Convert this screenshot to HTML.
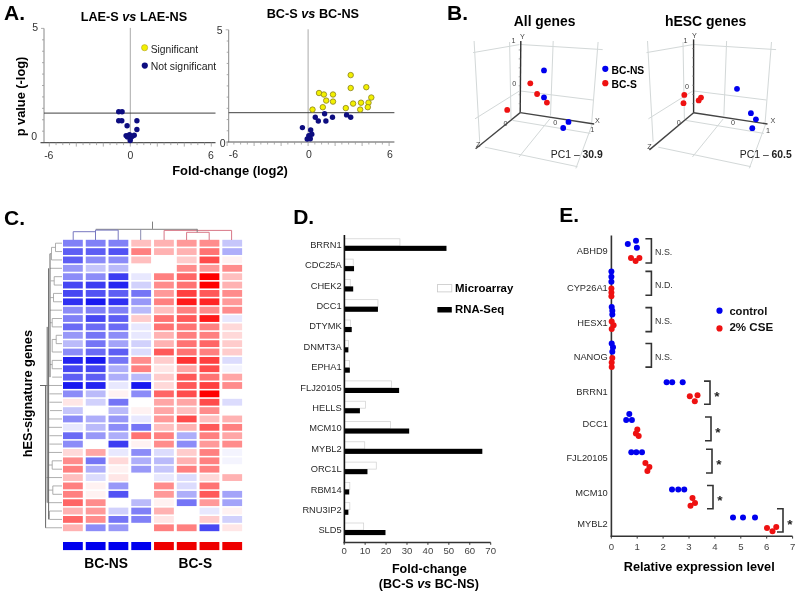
<!DOCTYPE html>
<html><head><meta charset="utf-8"><style>
html,body{margin:0;padding:0;background:#fff;}
svg{display:block;font-family:"Liberation Sans", sans-serif;filter:blur(0.3px);}
</style></head><body>
<svg width="800" height="595" viewBox="0 0 800 595" font-family='"Liberation Sans", sans-serif'>
<rect x="0" y="0" width="800" height="595" fill="#fff"/>
<text x="4.00" y="20.40" font-size="21" font-weight="bold" fill="#000" text-anchor="start" >A.</text>
<line x1="44.00" y1="28.40" x2="44.00" y2="142.60" stroke="#888" stroke-width="1" />
<line x1="41.00" y1="28.40" x2="44.00" y2="28.40" stroke="#999" stroke-width="0.8" />
<line x1="42.00" y1="39.82" x2="44.00" y2="39.82" stroke="#999" stroke-width="0.8" />
<line x1="42.00" y1="51.24" x2="44.00" y2="51.24" stroke="#999" stroke-width="0.8" />
<line x1="42.00" y1="62.66" x2="44.00" y2="62.66" stroke="#999" stroke-width="0.8" />
<line x1="42.00" y1="74.08" x2="44.00" y2="74.08" stroke="#999" stroke-width="0.8" />
<line x1="42.00" y1="85.50" x2="44.00" y2="85.50" stroke="#999" stroke-width="0.8" />
<line x1="42.00" y1="96.92" x2="44.00" y2="96.92" stroke="#999" stroke-width="0.8" />
<line x1="42.00" y1="108.34" x2="44.00" y2="108.34" stroke="#999" stroke-width="0.8" />
<line x1="42.00" y1="119.76" x2="44.00" y2="119.76" stroke="#999" stroke-width="0.8" />
<line x1="42.00" y1="131.18" x2="44.00" y2="131.18" stroke="#999" stroke-width="0.8" />
<line x1="41.00" y1="142.60" x2="44.00" y2="142.60" stroke="#999" stroke-width="0.8" />
<line x1="40.50" y1="142.60" x2="215.50" y2="142.60" stroke="#555" stroke-width="1.2" />
<line x1="49.30" y1="142.60" x2="49.30" y2="146.60" stroke="#999" stroke-width="0.8" />
<line x1="56.05" y1="142.60" x2="56.05" y2="145.10" stroke="#999" stroke-width="0.8" />
<line x1="62.80" y1="142.60" x2="62.80" y2="145.10" stroke="#999" stroke-width="0.8" />
<line x1="69.55" y1="142.60" x2="69.55" y2="145.10" stroke="#999" stroke-width="0.8" />
<line x1="76.30" y1="142.60" x2="76.30" y2="146.60" stroke="#999" stroke-width="0.8" />
<line x1="83.05" y1="142.60" x2="83.05" y2="145.10" stroke="#999" stroke-width="0.8" />
<line x1="89.80" y1="142.60" x2="89.80" y2="145.10" stroke="#999" stroke-width="0.8" />
<line x1="96.55" y1="142.60" x2="96.55" y2="145.10" stroke="#999" stroke-width="0.8" />
<line x1="103.30" y1="142.60" x2="103.30" y2="146.60" stroke="#999" stroke-width="0.8" />
<line x1="110.05" y1="142.60" x2="110.05" y2="145.10" stroke="#999" stroke-width="0.8" />
<line x1="116.80" y1="142.60" x2="116.80" y2="145.10" stroke="#999" stroke-width="0.8" />
<line x1="123.55" y1="142.60" x2="123.55" y2="145.10" stroke="#999" stroke-width="0.8" />
<line x1="130.30" y1="142.60" x2="130.30" y2="146.60" stroke="#999" stroke-width="0.8" />
<line x1="137.05" y1="142.60" x2="137.05" y2="145.10" stroke="#999" stroke-width="0.8" />
<line x1="143.80" y1="142.60" x2="143.80" y2="145.10" stroke="#999" stroke-width="0.8" />
<line x1="150.55" y1="142.60" x2="150.55" y2="145.10" stroke="#999" stroke-width="0.8" />
<line x1="157.30" y1="142.60" x2="157.30" y2="146.60" stroke="#999" stroke-width="0.8" />
<line x1="164.05" y1="142.60" x2="164.05" y2="145.10" stroke="#999" stroke-width="0.8" />
<line x1="170.80" y1="142.60" x2="170.80" y2="145.10" stroke="#999" stroke-width="0.8" />
<line x1="177.55" y1="142.60" x2="177.55" y2="145.10" stroke="#999" stroke-width="0.8" />
<line x1="184.30" y1="142.60" x2="184.30" y2="146.60" stroke="#999" stroke-width="0.8" />
<line x1="191.05" y1="142.60" x2="191.05" y2="145.10" stroke="#999" stroke-width="0.8" />
<line x1="197.80" y1="142.60" x2="197.80" y2="145.10" stroke="#999" stroke-width="0.8" />
<line x1="204.55" y1="142.60" x2="204.55" y2="145.10" stroke="#999" stroke-width="0.8" />
<line x1="211.30" y1="142.60" x2="211.30" y2="146.60" stroke="#999" stroke-width="0.8" />
<line x1="130.30" y1="27.90" x2="130.30" y2="142.60" stroke="#aaa" stroke-width="1" />
<line x1="44.00" y1="113.10" x2="215.50" y2="113.10" stroke="#404040" stroke-width="1" />
<line x1="228.70" y1="29.80" x2="228.70" y2="142.00" stroke="#888" stroke-width="1" />
<line x1="225.70" y1="29.80" x2="228.70" y2="29.80" stroke="#999" stroke-width="0.8" />
<line x1="226.70" y1="41.02" x2="228.70" y2="41.02" stroke="#999" stroke-width="0.8" />
<line x1="226.70" y1="52.24" x2="228.70" y2="52.24" stroke="#999" stroke-width="0.8" />
<line x1="226.70" y1="63.46" x2="228.70" y2="63.46" stroke="#999" stroke-width="0.8" />
<line x1="226.70" y1="74.68" x2="228.70" y2="74.68" stroke="#999" stroke-width="0.8" />
<line x1="226.70" y1="85.90" x2="228.70" y2="85.90" stroke="#999" stroke-width="0.8" />
<line x1="226.70" y1="97.12" x2="228.70" y2="97.12" stroke="#999" stroke-width="0.8" />
<line x1="226.70" y1="108.34" x2="228.70" y2="108.34" stroke="#999" stroke-width="0.8" />
<line x1="226.70" y1="119.56" x2="228.70" y2="119.56" stroke="#999" stroke-width="0.8" />
<line x1="226.70" y1="130.78" x2="228.70" y2="130.78" stroke="#999" stroke-width="0.8" />
<line x1="225.70" y1="142.00" x2="228.70" y2="142.00" stroke="#999" stroke-width="0.8" />
<line x1="227.50" y1="142.00" x2="394.40" y2="142.00" stroke="#555" stroke-width="1.2" />
<line x1="227.10" y1="142.00" x2="227.10" y2="146.00" stroke="#999" stroke-width="0.8" />
<line x1="233.85" y1="142.00" x2="233.85" y2="144.50" stroke="#999" stroke-width="0.8" />
<line x1="240.60" y1="142.00" x2="240.60" y2="144.50" stroke="#999" stroke-width="0.8" />
<line x1="247.35" y1="142.00" x2="247.35" y2="144.50" stroke="#999" stroke-width="0.8" />
<line x1="254.10" y1="142.00" x2="254.10" y2="146.00" stroke="#999" stroke-width="0.8" />
<line x1="260.85" y1="142.00" x2="260.85" y2="144.50" stroke="#999" stroke-width="0.8" />
<line x1="267.60" y1="142.00" x2="267.60" y2="144.50" stroke="#999" stroke-width="0.8" />
<line x1="274.35" y1="142.00" x2="274.35" y2="144.50" stroke="#999" stroke-width="0.8" />
<line x1="281.10" y1="142.00" x2="281.10" y2="146.00" stroke="#999" stroke-width="0.8" />
<line x1="287.85" y1="142.00" x2="287.85" y2="144.50" stroke="#999" stroke-width="0.8" />
<line x1="294.60" y1="142.00" x2="294.60" y2="144.50" stroke="#999" stroke-width="0.8" />
<line x1="301.35" y1="142.00" x2="301.35" y2="144.50" stroke="#999" stroke-width="0.8" />
<line x1="308.10" y1="142.00" x2="308.10" y2="146.00" stroke="#999" stroke-width="0.8" />
<line x1="314.85" y1="142.00" x2="314.85" y2="144.50" stroke="#999" stroke-width="0.8" />
<line x1="321.60" y1="142.00" x2="321.60" y2="144.50" stroke="#999" stroke-width="0.8" />
<line x1="328.35" y1="142.00" x2="328.35" y2="144.50" stroke="#999" stroke-width="0.8" />
<line x1="335.10" y1="142.00" x2="335.10" y2="146.00" stroke="#999" stroke-width="0.8" />
<line x1="341.85" y1="142.00" x2="341.85" y2="144.50" stroke="#999" stroke-width="0.8" />
<line x1="348.60" y1="142.00" x2="348.60" y2="144.50" stroke="#999" stroke-width="0.8" />
<line x1="355.35" y1="142.00" x2="355.35" y2="144.50" stroke="#999" stroke-width="0.8" />
<line x1="362.10" y1="142.00" x2="362.10" y2="146.00" stroke="#999" stroke-width="0.8" />
<line x1="368.85" y1="142.00" x2="368.85" y2="144.50" stroke="#999" stroke-width="0.8" />
<line x1="375.60" y1="142.00" x2="375.60" y2="144.50" stroke="#999" stroke-width="0.8" />
<line x1="382.35" y1="142.00" x2="382.35" y2="144.50" stroke="#999" stroke-width="0.8" />
<line x1="389.10" y1="142.00" x2="389.10" y2="146.00" stroke="#999" stroke-width="0.8" />
<line x1="308.10" y1="29.30" x2="308.10" y2="142.00" stroke="#aaa" stroke-width="1" />
<line x1="228.70" y1="112.70" x2="394.40" y2="112.70" stroke="#404040" stroke-width="1" />
<text x="38.00" y="31.20" font-size="10.5" font-weight="normal" fill="#333" text-anchor="end" >5</text>
<text x="37.20" y="139.90" font-size="10.5" font-weight="normal" fill="#333" text-anchor="end" >0</text>
<text x="48.80" y="159.20" font-size="10.5" font-weight="normal" fill="#333" text-anchor="middle" >-6</text>
<text x="130.30" y="158.60" font-size="10.5" font-weight="normal" fill="#333" text-anchor="middle" >0</text>
<text x="210.80" y="158.60" font-size="10.5" font-weight="normal" fill="#333" text-anchor="middle" >6</text>
<text x="222.60" y="33.60" font-size="10.5" font-weight="normal" fill="#333" text-anchor="end" >5</text>
<text x="225.60" y="146.60" font-size="10.5" font-weight="normal" fill="#333" text-anchor="end" >0</text>
<text x="233.50" y="157.80" font-size="10.5" font-weight="normal" fill="#333" text-anchor="middle" >-6</text>
<text x="308.90" y="157.80" font-size="10.5" font-weight="normal" fill="#333" text-anchor="middle" >0</text>
<text x="389.90" y="157.80" font-size="10.5" font-weight="normal" fill="#333" text-anchor="middle" >6</text>
<text x="80.70" y="20.80" font-size="12.7" font-weight="bold" fill="#000" text-anchor="start" >LAE-S <tspan font-style="italic">vs</tspan> LAE-NS</text>
<text x="266.70" y="17.70" font-size="12.7" font-weight="bold" fill="#000" text-anchor="start" >BC-S <tspan font-style="italic">vs</tspan> BC-NS</text>
<text x="172.20" y="174.60" font-size="12.95" font-weight="bold" fill="#000" text-anchor="start" >Fold-change (log2)</text>
<text x="0" y="0" font-size="12.8" font-weight="bold" text-anchor="middle" transform="translate(25.0,96.5) rotate(-90)">p value (-log)</text>
<circle cx="144.60" cy="47.70" r="3.1" fill="#f2f000" stroke="#b0a030" stroke-width="0.6"/>
<text x="150.70" y="52.50" font-size="10.3" font-weight="normal" fill="#222" text-anchor="start" >Significant</text>
<circle cx="144.80" cy="65.60" r="3.1" fill="#0d0d80" stroke="none" stroke-width="0"/>
<text x="150.70" y="70.40" font-size="10.45" font-weight="normal" fill="#222" text-anchor="start" >Not significant</text>
<circle cx="118.70" cy="111.70" r="2.7" fill="#0d0d80" stroke="none" stroke-width="0"/>
<circle cx="122.10" cy="111.70" r="2.7" fill="#0d0d80" stroke="none" stroke-width="0"/>
<circle cx="118.70" cy="120.80" r="2.7" fill="#0d0d80" stroke="none" stroke-width="0"/>
<circle cx="121.80" cy="120.80" r="2.7" fill="#0d0d80" stroke="none" stroke-width="0"/>
<circle cx="127.10" cy="125.80" r="2.7" fill="#0d0d80" stroke="none" stroke-width="0"/>
<circle cx="136.90" cy="120.80" r="2.7" fill="#0d0d80" stroke="none" stroke-width="0"/>
<circle cx="136.90" cy="129.50" r="2.7" fill="#0d0d80" stroke="none" stroke-width="0"/>
<circle cx="126.10" cy="135.60" r="2.7" fill="#0d0d80" stroke="none" stroke-width="0"/>
<circle cx="129.50" cy="134.60" r="2.7" fill="#0d0d80" stroke="none" stroke-width="0"/>
<circle cx="134.20" cy="135.20" r="2.7" fill="#0d0d80" stroke="none" stroke-width="0"/>
<circle cx="130.20" cy="138.60" r="2.7" fill="#0d0d80" stroke="none" stroke-width="0"/>
<circle cx="130.20" cy="140.60" r="2.7" fill="#0d0d80" stroke="none" stroke-width="0"/>
<circle cx="127.50" cy="136.90" r="2.7" fill="#0d0d80" stroke="none" stroke-width="0"/>
<circle cx="132.00" cy="136.50" r="2.7" fill="#0d0d80" stroke="none" stroke-width="0"/>
<circle cx="350.70" cy="75.10" r="2.75" fill="#f2f000" stroke="#8a8020" stroke-width="0.8"/>
<circle cx="350.70" cy="88.00" r="2.75" fill="#f2f000" stroke="#8a8020" stroke-width="0.8"/>
<circle cx="366.30" cy="87.20" r="2.75" fill="#f2f000" stroke="#8a8020" stroke-width="0.8"/>
<circle cx="319.00" cy="93.00" r="2.75" fill="#f2f000" stroke="#8a8020" stroke-width="0.8"/>
<circle cx="323.90" cy="94.50" r="2.75" fill="#f2f000" stroke="#8a8020" stroke-width="0.8"/>
<circle cx="333.00" cy="94.50" r="2.75" fill="#f2f000" stroke="#8a8020" stroke-width="0.8"/>
<circle cx="326.20" cy="100.60" r="2.75" fill="#f2f000" stroke="#8a8020" stroke-width="0.8"/>
<circle cx="333.00" cy="101.60" r="2.75" fill="#f2f000" stroke="#8a8020" stroke-width="0.8"/>
<circle cx="371.30" cy="97.50" r="2.75" fill="#f2f000" stroke="#8a8020" stroke-width="0.8"/>
<circle cx="353.10" cy="103.60" r="2.75" fill="#f2f000" stroke="#8a8020" stroke-width="0.8"/>
<circle cx="361.00" cy="102.70" r="2.75" fill="#f2f000" stroke="#8a8020" stroke-width="0.8"/>
<circle cx="368.50" cy="102.70" r="2.75" fill="#f2f000" stroke="#8a8020" stroke-width="0.8"/>
<circle cx="322.80" cy="107.20" r="2.75" fill="#f2f000" stroke="#8a8020" stroke-width="0.8"/>
<circle cx="345.80" cy="108.10" r="2.75" fill="#f2f000" stroke="#8a8020" stroke-width="0.8"/>
<circle cx="360.20" cy="109.60" r="2.75" fill="#f2f000" stroke="#8a8020" stroke-width="0.8"/>
<circle cx="367.80" cy="107.20" r="2.75" fill="#f2f000" stroke="#8a8020" stroke-width="0.8"/>
<circle cx="312.50" cy="109.60" r="2.75" fill="#f2f000" stroke="#8a8020" stroke-width="0.8"/>
<circle cx="324.60" cy="113.70" r="2.7" fill="#0d0d80" stroke="none" stroke-width="0"/>
<circle cx="315.30" cy="117.20" r="2.7" fill="#0d0d80" stroke="none" stroke-width="0"/>
<circle cx="318.30" cy="121.00" r="2.7" fill="#0d0d80" stroke="none" stroke-width="0"/>
<circle cx="325.90" cy="121.00" r="2.7" fill="#0d0d80" stroke="none" stroke-width="0"/>
<circle cx="332.50" cy="117.20" r="2.7" fill="#0d0d80" stroke="none" stroke-width="0"/>
<circle cx="346.60" cy="114.90" r="2.7" fill="#0d0d80" stroke="none" stroke-width="0"/>
<circle cx="350.70" cy="117.20" r="2.7" fill="#0d0d80" stroke="none" stroke-width="0"/>
<circle cx="302.40" cy="127.60" r="2.7" fill="#0d0d80" stroke="none" stroke-width="0"/>
<circle cx="310.70" cy="130.00" r="2.7" fill="#0d0d80" stroke="none" stroke-width="0"/>
<circle cx="311.80" cy="134.20" r="2.7" fill="#0d0d80" stroke="none" stroke-width="0"/>
<circle cx="308.80" cy="135.70" r="2.7" fill="#0d0d80" stroke="none" stroke-width="0"/>
<circle cx="309.50" cy="137.90" r="2.7" fill="#0d0d80" stroke="none" stroke-width="0"/>
<circle cx="307.20" cy="139.00" r="2.7" fill="#0d0d80" stroke="none" stroke-width="0"/>
<circle cx="310.30" cy="138.70" r="2.7" fill="#0d0d80" stroke="none" stroke-width="0"/>
<text x="447.00" y="20.20" font-size="21" font-weight="bold" fill="#000" text-anchor="start" >B.</text>
<text x="513.80" y="26.30" font-size="13.85" font-weight="bold" fill="#000" text-anchor="start" >All genes</text>
<text x="665.00" y="26.40" font-size="13.95" font-weight="bold" fill="#000" text-anchor="start" >hESC genes</text>
<g stroke="#d3d8d8" stroke-width="1" fill="none">
<line x1="520.50" y1="44.50" x2="602.70" y2="49.60"/>
<line x1="520.50" y1="91.00" x2="593.00" y2="100.00"/>
<line x1="553.20" y1="41.00" x2="550.50" y2="115.50"/>
<line x1="598.10" y1="42.00" x2="591.70" y2="122.70"/>
<line x1="519.40" y1="44.60" x2="473.10" y2="52.60"/>
<line x1="519.10" y1="91.20" x2="475.00" y2="118.80"/>
<line x1="509.60" y1="42.00" x2="511.00" y2="119.00"/>
<line x1="474.10" y1="41.00" x2="479.70" y2="141.80"/>
<line x1="512.50" y1="120.40" x2="590.50" y2="133.40"/>
<line x1="484.90" y1="147.20" x2="577.50" y2="166.70"/>
<line x1="549.90" y1="118.80" x2="519.00" y2="157.00"/>
<line x1="592.10" y1="124.50" x2="575.90" y2="168.40"/>
</g>
<line x1="520.20" y1="112.60" x2="520.80" y2="41.00" stroke="#333" stroke-width="1.4" />
<line x1="520.20" y1="112.60" x2="594.20" y2="124.00" stroke="#444" stroke-width="1.4" />
<line x1="520.20" y1="112.60" x2="475.60" y2="148.80" stroke="#444" stroke-width="1.4" />
<line x1="518.70" y1="103.65" x2="520.20" y2="103.65" stroke="#888" stroke-width="0.7" />
<line x1="518.70" y1="94.70" x2="520.20" y2="94.70" stroke="#888" stroke-width="0.7" />
<line x1="518.70" y1="85.75" x2="520.20" y2="85.75" stroke="#888" stroke-width="0.7" />
<line x1="518.70" y1="76.80" x2="520.20" y2="76.80" stroke="#888" stroke-width="0.7" />
<line x1="518.70" y1="67.85" x2="520.20" y2="67.85" stroke="#888" stroke-width="0.7" />
<line x1="518.70" y1="58.90" x2="520.20" y2="58.90" stroke="#888" stroke-width="0.7" />
<line x1="518.70" y1="49.95" x2="520.20" y2="49.95" stroke="#888" stroke-width="0.7" />
<text x="513.60" y="42.50" font-size="7.2" font-weight="normal" fill="#444" text-anchor="middle" >1</text>
<text x="522.50" y="38.50" font-size="7.2" font-weight="normal" fill="#444" text-anchor="middle" >Y</text>
<text x="514.20" y="85.50" font-size="7.2" font-weight="normal" fill="#444" text-anchor="middle" >0</text>
<text x="555.20" y="125.20" font-size="7.2" font-weight="normal" fill="#444" text-anchor="middle" >0</text>
<text x="597.40" y="123.40" font-size="7.2" font-weight="normal" fill="#444" text-anchor="middle" >X</text>
<text x="592.30" y="132.20" font-size="7.2" font-weight="normal" fill="#444" text-anchor="middle" >1</text>
<text x="505.40" y="125.50" font-size="7.2" font-weight="normal" fill="#444" text-anchor="middle" >0</text>
<text x="478.20" y="147.00" font-size="7.2" font-weight="normal" fill="#444" text-anchor="middle" >Z</text>
<circle cx="544.00" cy="70.40" r="2.9" fill="#0000ee" stroke="none" stroke-width="0"/>
<circle cx="530.30" cy="83.30" r="2.9" fill="#ee1111" stroke="none" stroke-width="0"/>
<circle cx="537.10" cy="94.00" r="2.9" fill="#ee1111" stroke="none" stroke-width="0"/>
<circle cx="544.00" cy="97.40" r="2.9" fill="#0000ee" stroke="none" stroke-width="0"/>
<circle cx="546.90" cy="102.60" r="2.9" fill="#ee1111" stroke="none" stroke-width="0"/>
<circle cx="507.20" cy="109.90" r="2.9" fill="#ee1111" stroke="none" stroke-width="0"/>
<circle cx="568.50" cy="121.90" r="2.9" fill="#0000ee" stroke="none" stroke-width="0"/>
<circle cx="563.20" cy="128.00" r="2.9" fill="#0000ee" stroke="none" stroke-width="0"/>
<g stroke="#d3d8d8" stroke-width="1" fill="none">
<line x1="693.90" y1="44.50" x2="776.10" y2="49.60"/>
<line x1="693.90" y1="91.00" x2="766.40" y2="100.00"/>
<line x1="726.60" y1="41.00" x2="723.90" y2="115.50"/>
<line x1="771.50" y1="42.00" x2="765.10" y2="122.70"/>
<line x1="692.80" y1="44.60" x2="646.50" y2="52.60"/>
<line x1="692.50" y1="91.20" x2="648.40" y2="118.80"/>
<line x1="683.00" y1="42.00" x2="684.40" y2="119.00"/>
<line x1="647.50" y1="41.00" x2="653.10" y2="141.80"/>
<line x1="685.90" y1="120.40" x2="763.90" y2="133.40"/>
<line x1="658.30" y1="147.20" x2="750.90" y2="166.70"/>
<line x1="723.30" y1="118.80" x2="692.40" y2="157.00"/>
<line x1="765.50" y1="124.50" x2="749.30" y2="168.40"/>
</g>
<line x1="693.60" y1="112.80" x2="693.60" y2="39.40" stroke="#333" stroke-width="1.4" />
<line x1="693.60" y1="112.80" x2="767.50" y2="124.00" stroke="#444" stroke-width="1.4" />
<line x1="693.60" y1="112.80" x2="649.40" y2="149.90" stroke="#444" stroke-width="1.4" />
<line x1="692.10" y1="103.62" x2="693.60" y2="103.62" stroke="#888" stroke-width="0.7" />
<line x1="692.10" y1="94.45" x2="693.60" y2="94.45" stroke="#888" stroke-width="0.7" />
<line x1="692.10" y1="85.27" x2="693.60" y2="85.27" stroke="#888" stroke-width="0.7" />
<line x1="692.10" y1="76.10" x2="693.60" y2="76.10" stroke="#888" stroke-width="0.7" />
<line x1="692.10" y1="66.92" x2="693.60" y2="66.92" stroke="#888" stroke-width="0.7" />
<line x1="692.10" y1="57.75" x2="693.60" y2="57.75" stroke="#888" stroke-width="0.7" />
<line x1="692.10" y1="48.57" x2="693.60" y2="48.57" stroke="#888" stroke-width="0.7" />
<text x="685.40" y="43.00" font-size="7.2" font-weight="normal" fill="#444" text-anchor="middle" >1</text>
<text x="694.50" y="38.40" font-size="7.2" font-weight="normal" fill="#444" text-anchor="middle" >Y</text>
<text x="687.00" y="88.90" font-size="7.2" font-weight="normal" fill="#444" text-anchor="middle" >0</text>
<text x="732.90" y="125.40" font-size="7.2" font-weight="normal" fill="#444" text-anchor="middle" >0</text>
<text x="772.80" y="123.00" font-size="7.2" font-weight="normal" fill="#444" text-anchor="middle" >X</text>
<text x="768.10" y="133.10" font-size="7.2" font-weight="normal" fill="#444" text-anchor="middle" >1</text>
<text x="678.80" y="125.40" font-size="7.2" font-weight="normal" fill="#444" text-anchor="middle" >0</text>
<text x="649.40" y="148.90" font-size="7.2" font-weight="normal" fill="#444" text-anchor="middle" >Z</text>
<circle cx="737.00" cy="88.80" r="2.9" fill="#0000ee" stroke="none" stroke-width="0"/>
<circle cx="684.30" cy="94.90" r="2.9" fill="#ee1111" stroke="none" stroke-width="0"/>
<circle cx="683.50" cy="103.20" r="2.9" fill="#ee1111" stroke="none" stroke-width="0"/>
<circle cx="701.00" cy="97.60" r="2.9" fill="#ee1111" stroke="none" stroke-width="0"/>
<circle cx="698.70" cy="100.40" r="2.9" fill="#ee1111" stroke="none" stroke-width="0"/>
<circle cx="750.90" cy="113.20" r="2.9" fill="#0000ee" stroke="none" stroke-width="0"/>
<circle cx="755.90" cy="119.30" r="2.9" fill="#0000ee" stroke="none" stroke-width="0"/>
<circle cx="752.30" cy="128.20" r="2.9" fill="#0000ee" stroke="none" stroke-width="0"/>
<circle cx="605.30" cy="68.80" r="3.1" fill="#0000ee" stroke="none" stroke-width="0"/>
<text x="611.60" y="73.50" font-size="10.3" font-weight="bold" fill="#000" text-anchor="start" >BC-NS</text>
<circle cx="605.30" cy="83.20" r="3.1" fill="#ee1111" stroke="none" stroke-width="0"/>
<text x="611.60" y="87.90" font-size="10.3" font-weight="bold" fill="#000" text-anchor="start" >BC-S</text>
<text x="550.80" y="158.20" font-size="10.4" font-weight="normal" fill="#222" text-anchor="start" >PC1 – <tspan font-weight="bold">30.9</tspan></text>
<text x="739.80" y="158.10" font-size="10.4" font-weight="normal" fill="#222" text-anchor="start" >PC1 – <tspan font-weight="bold">60.5</tspan></text>
<text x="4.00" y="225.30" font-size="21" font-weight="bold" fill="#000" text-anchor="start" >C.</text>
<rect x="63.00" y="239.80" width="19.80" height="6.80" fill="rgb(128,128,247)" stroke="none" stroke-width="0"/>
<rect x="85.76" y="239.80" width="19.80" height="6.80" fill="rgb(128,128,247)" stroke="none" stroke-width="0"/>
<rect x="108.52" y="239.80" width="19.80" height="6.80" fill="rgb(128,128,247)" stroke="none" stroke-width="0"/>
<rect x="131.28" y="239.80" width="19.80" height="6.80" fill="rgb(255,191,191)" stroke="none" stroke-width="0"/>
<rect x="154.04" y="239.80" width="19.80" height="6.80" fill="rgb(255,178,178)" stroke="none" stroke-width="0"/>
<rect x="176.80" y="239.80" width="19.80" height="6.80" fill="rgb(255,153,153)" stroke="none" stroke-width="0"/>
<rect x="199.56" y="239.80" width="19.80" height="6.80" fill="rgb(255,140,140)" stroke="none" stroke-width="0"/>
<rect x="222.32" y="239.80" width="19.80" height="6.80" fill="rgb(198,198,251)" stroke="none" stroke-width="0"/>
<rect x="63.00" y="248.17" width="19.80" height="6.80" fill="rgb(94,94,244)" stroke="none" stroke-width="0"/>
<rect x="85.76" y="248.17" width="19.80" height="6.80" fill="rgb(94,94,244)" stroke="none" stroke-width="0"/>
<rect x="108.52" y="248.17" width="19.80" height="6.80" fill="rgb(82,82,244)" stroke="none" stroke-width="0"/>
<rect x="131.28" y="248.17" width="19.80" height="6.80" fill="rgb(255,128,128)" stroke="none" stroke-width="0"/>
<rect x="154.04" y="248.17" width="19.80" height="6.80" fill="rgb(255,178,178)" stroke="none" stroke-width="0"/>
<rect x="176.80" y="248.17" width="19.80" height="6.80" fill="rgb(255,178,178)" stroke="none" stroke-width="0"/>
<rect x="199.56" y="248.17" width="19.80" height="6.80" fill="rgb(255,115,115)" stroke="none" stroke-width="0"/>
<rect x="222.32" y="248.17" width="19.80" height="6.80" fill="rgb(174,174,250)" stroke="none" stroke-width="0"/>
<rect x="63.00" y="256.54" width="19.80" height="6.80" fill="rgb(94,94,244)" stroke="none" stroke-width="0"/>
<rect x="85.76" y="256.54" width="19.80" height="6.80" fill="rgb(140,140,248)" stroke="none" stroke-width="0"/>
<rect x="108.52" y="256.54" width="19.80" height="6.80" fill="rgb(140,140,248)" stroke="none" stroke-width="0"/>
<rect x="131.28" y="256.54" width="19.80" height="6.80" fill="rgb(255,191,191)" stroke="none" stroke-width="0"/>
<rect x="154.04" y="256.54" width="19.80" height="6.80" fill="rgb(255,255,255)" stroke="none" stroke-width="0"/>
<rect x="176.80" y="256.54" width="19.80" height="6.80" fill="rgb(255,204,204)" stroke="none" stroke-width="0"/>
<rect x="199.56" y="256.54" width="19.80" height="6.80" fill="rgb(255,76,76)" stroke="none" stroke-width="0"/>
<rect x="222.32" y="256.54" width="19.80" height="6.80" fill="rgb(255,242,242)" stroke="none" stroke-width="0"/>
<rect x="63.00" y="264.91" width="19.80" height="6.80" fill="rgb(152,152,248)" stroke="none" stroke-width="0"/>
<rect x="85.76" y="264.91" width="19.80" height="6.80" fill="rgb(198,198,251)" stroke="none" stroke-width="0"/>
<rect x="108.52" y="264.91" width="19.80" height="6.80" fill="rgb(186,186,250)" stroke="none" stroke-width="0"/>
<rect x="131.28" y="264.91" width="19.80" height="6.80" fill="rgb(255,255,255)" stroke="none" stroke-width="0"/>
<rect x="154.04" y="264.91" width="19.80" height="6.80" fill="rgb(255,255,255)" stroke="none" stroke-width="0"/>
<rect x="176.80" y="264.91" width="19.80" height="6.80" fill="rgb(255,140,140)" stroke="none" stroke-width="0"/>
<rect x="199.56" y="264.91" width="19.80" height="6.80" fill="rgb(255,153,153)" stroke="none" stroke-width="0"/>
<rect x="222.32" y="264.91" width="19.80" height="6.80" fill="rgb(255,140,140)" stroke="none" stroke-width="0"/>
<rect x="63.00" y="273.28" width="19.80" height="6.80" fill="rgb(140,140,248)" stroke="none" stroke-width="0"/>
<rect x="85.76" y="273.28" width="19.80" height="6.80" fill="rgb(140,140,248)" stroke="none" stroke-width="0"/>
<rect x="108.52" y="273.28" width="19.80" height="6.80" fill="rgb(60,60,242)" stroke="none" stroke-width="0"/>
<rect x="131.28" y="273.28" width="19.80" height="6.80" fill="rgb(232,232,254)" stroke="none" stroke-width="0"/>
<rect x="154.04" y="273.28" width="19.80" height="6.80" fill="rgb(255,128,128)" stroke="none" stroke-width="0"/>
<rect x="176.80" y="273.28" width="19.80" height="6.80" fill="rgb(255,102,102)" stroke="none" stroke-width="0"/>
<rect x="199.56" y="273.28" width="19.80" height="6.80" fill="rgb(255,0,0)" stroke="none" stroke-width="0"/>
<rect x="222.32" y="273.28" width="19.80" height="6.80" fill="rgb(255,191,191)" stroke="none" stroke-width="0"/>
<rect x="63.00" y="281.65" width="19.80" height="6.80" fill="rgb(71,71,243)" stroke="none" stroke-width="0"/>
<rect x="85.76" y="281.65" width="19.80" height="6.80" fill="rgb(60,60,242)" stroke="none" stroke-width="0"/>
<rect x="108.52" y="281.65" width="19.80" height="6.80" fill="rgb(36,36,241)" stroke="none" stroke-width="0"/>
<rect x="131.28" y="281.65" width="19.80" height="6.80" fill="rgb(209,209,252)" stroke="none" stroke-width="0"/>
<rect x="154.04" y="281.65" width="19.80" height="6.80" fill="rgb(255,140,140)" stroke="none" stroke-width="0"/>
<rect x="176.80" y="281.65" width="19.80" height="6.80" fill="rgb(255,115,115)" stroke="none" stroke-width="0"/>
<rect x="199.56" y="281.65" width="19.80" height="6.80" fill="rgb(255,0,0)" stroke="none" stroke-width="0"/>
<rect x="222.32" y="281.65" width="19.80" height="6.80" fill="rgb(255,178,178)" stroke="none" stroke-width="0"/>
<rect x="63.00" y="290.02" width="19.80" height="6.80" fill="rgb(71,71,243)" stroke="none" stroke-width="0"/>
<rect x="85.76" y="290.02" width="19.80" height="6.80" fill="rgb(82,82,244)" stroke="none" stroke-width="0"/>
<rect x="108.52" y="290.02" width="19.80" height="6.80" fill="rgb(94,94,244)" stroke="none" stroke-width="0"/>
<rect x="131.28" y="290.02" width="19.80" height="6.80" fill="rgb(117,117,246)" stroke="none" stroke-width="0"/>
<rect x="154.04" y="290.02" width="19.80" height="6.80" fill="rgb(255,153,153)" stroke="none" stroke-width="0"/>
<rect x="176.80" y="290.02" width="19.80" height="6.80" fill="rgb(255,64,64)" stroke="none" stroke-width="0"/>
<rect x="199.56" y="290.02" width="19.80" height="6.80" fill="rgb(255,89,89)" stroke="none" stroke-width="0"/>
<rect x="222.32" y="290.02" width="19.80" height="6.80" fill="rgb(255,140,140)" stroke="none" stroke-width="0"/>
<rect x="63.00" y="298.39" width="19.80" height="6.80" fill="rgb(48,48,242)" stroke="none" stroke-width="0"/>
<rect x="85.76" y="298.39" width="19.80" height="6.80" fill="rgb(25,25,240)" stroke="none" stroke-width="0"/>
<rect x="108.52" y="298.39" width="19.80" height="6.80" fill="rgb(48,48,242)" stroke="none" stroke-width="0"/>
<rect x="131.28" y="298.39" width="19.80" height="6.80" fill="rgb(152,152,248)" stroke="none" stroke-width="0"/>
<rect x="154.04" y="298.39" width="19.80" height="6.80" fill="rgb(255,128,128)" stroke="none" stroke-width="0"/>
<rect x="176.80" y="298.39" width="19.80" height="6.80" fill="rgb(255,26,26)" stroke="none" stroke-width="0"/>
<rect x="199.56" y="298.39" width="19.80" height="6.80" fill="rgb(255,38,38)" stroke="none" stroke-width="0"/>
<rect x="222.32" y="298.39" width="19.80" height="6.80" fill="rgb(255,153,153)" stroke="none" stroke-width="0"/>
<rect x="63.00" y="306.76" width="19.80" height="6.80" fill="rgb(140,140,248)" stroke="none" stroke-width="0"/>
<rect x="85.76" y="306.76" width="19.80" height="6.80" fill="rgb(128,128,247)" stroke="none" stroke-width="0"/>
<rect x="108.52" y="306.76" width="19.80" height="6.80" fill="rgb(128,128,247)" stroke="none" stroke-width="0"/>
<rect x="131.28" y="306.76" width="19.80" height="6.80" fill="rgb(186,186,250)" stroke="none" stroke-width="0"/>
<rect x="154.04" y="306.76" width="19.80" height="6.80" fill="rgb(255,191,191)" stroke="none" stroke-width="0"/>
<rect x="176.80" y="306.76" width="19.80" height="6.80" fill="rgb(255,128,128)" stroke="none" stroke-width="0"/>
<rect x="199.56" y="306.76" width="19.80" height="6.80" fill="rgb(255,140,140)" stroke="none" stroke-width="0"/>
<rect x="222.32" y="306.76" width="19.80" height="6.80" fill="rgb(255,140,140)" stroke="none" stroke-width="0"/>
<rect x="63.00" y="315.13" width="19.80" height="6.80" fill="rgb(128,128,247)" stroke="none" stroke-width="0"/>
<rect x="85.76" y="315.13" width="19.80" height="6.80" fill="rgb(71,71,243)" stroke="none" stroke-width="0"/>
<rect x="108.52" y="315.13" width="19.80" height="6.80" fill="rgb(94,94,244)" stroke="none" stroke-width="0"/>
<rect x="131.28" y="315.13" width="19.80" height="6.80" fill="rgb(255,204,204)" stroke="none" stroke-width="0"/>
<rect x="154.04" y="315.13" width="19.80" height="6.80" fill="rgb(255,115,115)" stroke="none" stroke-width="0"/>
<rect x="176.80" y="315.13" width="19.80" height="6.80" fill="rgb(255,89,89)" stroke="none" stroke-width="0"/>
<rect x="199.56" y="315.13" width="19.80" height="6.80" fill="rgb(255,26,26)" stroke="none" stroke-width="0"/>
<rect x="222.32" y="315.13" width="19.80" height="6.80" fill="rgb(232,232,254)" stroke="none" stroke-width="0"/>
<rect x="63.00" y="323.50" width="19.80" height="6.80" fill="rgb(106,106,245)" stroke="none" stroke-width="0"/>
<rect x="85.76" y="323.50" width="19.80" height="6.80" fill="rgb(106,106,245)" stroke="none" stroke-width="0"/>
<rect x="108.52" y="323.50" width="19.80" height="6.80" fill="rgb(106,106,245)" stroke="none" stroke-width="0"/>
<rect x="131.28" y="323.50" width="19.80" height="6.80" fill="rgb(232,232,254)" stroke="none" stroke-width="0"/>
<rect x="154.04" y="323.50" width="19.80" height="6.80" fill="rgb(255,115,115)" stroke="none" stroke-width="0"/>
<rect x="176.80" y="323.50" width="19.80" height="6.80" fill="rgb(255,115,115)" stroke="none" stroke-width="0"/>
<rect x="199.56" y="323.50" width="19.80" height="6.80" fill="rgb(255,128,128)" stroke="none" stroke-width="0"/>
<rect x="222.32" y="323.50" width="19.80" height="6.80" fill="rgb(255,217,217)" stroke="none" stroke-width="0"/>
<rect x="63.00" y="331.87" width="19.80" height="6.80" fill="rgb(152,152,248)" stroke="none" stroke-width="0"/>
<rect x="85.76" y="331.87" width="19.80" height="6.80" fill="rgb(117,117,246)" stroke="none" stroke-width="0"/>
<rect x="108.52" y="331.87" width="19.80" height="6.80" fill="rgb(140,140,248)" stroke="none" stroke-width="0"/>
<rect x="131.28" y="331.87" width="19.80" height="6.80" fill="rgb(232,232,254)" stroke="none" stroke-width="0"/>
<rect x="154.04" y="331.87" width="19.80" height="6.80" fill="rgb(255,178,178)" stroke="none" stroke-width="0"/>
<rect x="176.80" y="331.87" width="19.80" height="6.80" fill="rgb(255,128,128)" stroke="none" stroke-width="0"/>
<rect x="199.56" y="331.87" width="19.80" height="6.80" fill="rgb(255,128,128)" stroke="none" stroke-width="0"/>
<rect x="222.32" y="331.87" width="19.80" height="6.80" fill="rgb(255,217,217)" stroke="none" stroke-width="0"/>
<rect x="63.00" y="340.24" width="19.80" height="6.80" fill="rgb(186,186,250)" stroke="none" stroke-width="0"/>
<rect x="85.76" y="340.24" width="19.80" height="6.80" fill="rgb(117,117,246)" stroke="none" stroke-width="0"/>
<rect x="108.52" y="340.24" width="19.80" height="6.80" fill="rgb(163,163,249)" stroke="none" stroke-width="0"/>
<rect x="131.28" y="340.24" width="19.80" height="6.80" fill="rgb(209,209,252)" stroke="none" stroke-width="0"/>
<rect x="154.04" y="340.24" width="19.80" height="6.80" fill="rgb(255,178,178)" stroke="none" stroke-width="0"/>
<rect x="176.80" y="340.24" width="19.80" height="6.80" fill="rgb(255,115,115)" stroke="none" stroke-width="0"/>
<rect x="199.56" y="340.24" width="19.80" height="6.80" fill="rgb(255,102,102)" stroke="none" stroke-width="0"/>
<rect x="222.32" y="340.24" width="19.80" height="6.80" fill="rgb(255,204,204)" stroke="none" stroke-width="0"/>
<rect x="63.00" y="348.61" width="19.80" height="6.80" fill="rgb(140,140,248)" stroke="none" stroke-width="0"/>
<rect x="85.76" y="348.61" width="19.80" height="6.80" fill="rgb(106,106,245)" stroke="none" stroke-width="0"/>
<rect x="108.52" y="348.61" width="19.80" height="6.80" fill="rgb(94,94,244)" stroke="none" stroke-width="0"/>
<rect x="131.28" y="348.61" width="19.80" height="6.80" fill="rgb(220,220,253)" stroke="none" stroke-width="0"/>
<rect x="154.04" y="348.61" width="19.80" height="6.80" fill="rgb(255,89,89)" stroke="none" stroke-width="0"/>
<rect x="176.80" y="348.61" width="19.80" height="6.80" fill="rgb(255,115,115)" stroke="none" stroke-width="0"/>
<rect x="199.56" y="348.61" width="19.80" height="6.80" fill="rgb(255,128,128)" stroke="none" stroke-width="0"/>
<rect x="222.32" y="348.61" width="19.80" height="6.80" fill="rgb(255,204,204)" stroke="none" stroke-width="0"/>
<rect x="63.00" y="356.98" width="19.80" height="6.80" fill="rgb(36,36,241)" stroke="none" stroke-width="0"/>
<rect x="85.76" y="356.98" width="19.80" height="6.80" fill="rgb(25,25,240)" stroke="none" stroke-width="0"/>
<rect x="108.52" y="356.98" width="19.80" height="6.80" fill="rgb(117,117,246)" stroke="none" stroke-width="0"/>
<rect x="131.28" y="356.98" width="19.80" height="6.80" fill="rgb(255,140,140)" stroke="none" stroke-width="0"/>
<rect x="154.04" y="356.98" width="19.80" height="6.80" fill="rgb(255,204,204)" stroke="none" stroke-width="0"/>
<rect x="176.80" y="356.98" width="19.80" height="6.80" fill="rgb(255,51,51)" stroke="none" stroke-width="0"/>
<rect x="199.56" y="356.98" width="19.80" height="6.80" fill="rgb(255,64,64)" stroke="none" stroke-width="0"/>
<rect x="222.32" y="356.98" width="19.80" height="6.80" fill="rgb(220,220,253)" stroke="none" stroke-width="0"/>
<rect x="63.00" y="365.35" width="19.80" height="6.80" fill="rgb(71,71,243)" stroke="none" stroke-width="0"/>
<rect x="85.76" y="365.35" width="19.80" height="6.80" fill="rgb(71,71,243)" stroke="none" stroke-width="0"/>
<rect x="108.52" y="365.35" width="19.80" height="6.80" fill="rgb(174,174,250)" stroke="none" stroke-width="0"/>
<rect x="131.28" y="365.35" width="19.80" height="6.80" fill="rgb(255,128,128)" stroke="none" stroke-width="0"/>
<rect x="154.04" y="365.35" width="19.80" height="6.80" fill="rgb(255,230,230)" stroke="none" stroke-width="0"/>
<rect x="176.80" y="365.35" width="19.80" height="6.80" fill="rgb(255,166,166)" stroke="none" stroke-width="0"/>
<rect x="199.56" y="365.35" width="19.80" height="6.80" fill="rgb(255,76,76)" stroke="none" stroke-width="0"/>
<rect x="222.32" y="365.35" width="19.80" height="6.80" fill="rgb(244,244,254)" stroke="none" stroke-width="0"/>
<rect x="63.00" y="373.72" width="19.80" height="6.80" fill="rgb(94,94,244)" stroke="none" stroke-width="0"/>
<rect x="85.76" y="373.72" width="19.80" height="6.80" fill="rgb(94,94,244)" stroke="none" stroke-width="0"/>
<rect x="108.52" y="373.72" width="19.80" height="6.80" fill="rgb(174,174,250)" stroke="none" stroke-width="0"/>
<rect x="131.28" y="373.72" width="19.80" height="6.80" fill="rgb(186,186,250)" stroke="none" stroke-width="0"/>
<rect x="154.04" y="373.72" width="19.80" height="6.80" fill="rgb(255,204,204)" stroke="none" stroke-width="0"/>
<rect x="176.80" y="373.72" width="19.80" height="6.80" fill="rgb(255,89,89)" stroke="none" stroke-width="0"/>
<rect x="199.56" y="373.72" width="19.80" height="6.80" fill="rgb(255,115,115)" stroke="none" stroke-width="0"/>
<rect x="222.32" y="373.72" width="19.80" height="6.80" fill="rgb(255,166,166)" stroke="none" stroke-width="0"/>
<rect x="63.00" y="382.09" width="19.80" height="6.80" fill="rgb(25,25,240)" stroke="none" stroke-width="0"/>
<rect x="85.76" y="382.09" width="19.80" height="6.80" fill="rgb(36,36,241)" stroke="none" stroke-width="0"/>
<rect x="108.52" y="382.09" width="19.80" height="6.80" fill="rgb(232,232,254)" stroke="none" stroke-width="0"/>
<rect x="131.28" y="382.09" width="19.80" height="6.80" fill="rgb(25,25,240)" stroke="none" stroke-width="0"/>
<rect x="154.04" y="382.09" width="19.80" height="6.80" fill="rgb(255,217,217)" stroke="none" stroke-width="0"/>
<rect x="176.80" y="382.09" width="19.80" height="6.80" fill="rgb(255,89,89)" stroke="none" stroke-width="0"/>
<rect x="199.56" y="382.09" width="19.80" height="6.80" fill="rgb(255,64,64)" stroke="none" stroke-width="0"/>
<rect x="222.32" y="382.09" width="19.80" height="6.80" fill="rgb(255,140,140)" stroke="none" stroke-width="0"/>
<rect x="63.00" y="390.46" width="19.80" height="6.80" fill="rgb(140,140,248)" stroke="none" stroke-width="0"/>
<rect x="85.76" y="390.46" width="19.80" height="6.80" fill="rgb(186,186,250)" stroke="none" stroke-width="0"/>
<rect x="108.52" y="390.46" width="19.80" height="6.80" fill="rgb(255,242,242)" stroke="none" stroke-width="0"/>
<rect x="131.28" y="390.46" width="19.80" height="6.80" fill="rgb(140,140,248)" stroke="none" stroke-width="0"/>
<rect x="154.04" y="390.46" width="19.80" height="6.80" fill="rgb(255,102,102)" stroke="none" stroke-width="0"/>
<rect x="176.80" y="390.46" width="19.80" height="6.80" fill="rgb(255,76,76)" stroke="none" stroke-width="0"/>
<rect x="199.56" y="390.46" width="19.80" height="6.80" fill="rgb(255,0,0)" stroke="none" stroke-width="0"/>
<rect x="222.32" y="390.46" width="19.80" height="6.80" fill="rgb(255,255,255)" stroke="none" stroke-width="0"/>
<rect x="63.00" y="398.83" width="19.80" height="6.80" fill="rgb(255,230,230)" stroke="none" stroke-width="0"/>
<rect x="85.76" y="398.83" width="19.80" height="6.80" fill="rgb(209,209,252)" stroke="none" stroke-width="0"/>
<rect x="108.52" y="398.83" width="19.80" height="6.80" fill="rgb(117,117,246)" stroke="none" stroke-width="0"/>
<rect x="131.28" y="398.83" width="19.80" height="6.80" fill="rgb(255,255,255)" stroke="none" stroke-width="0"/>
<rect x="154.04" y="398.83" width="19.80" height="6.80" fill="rgb(255,166,166)" stroke="none" stroke-width="0"/>
<rect x="176.80" y="398.83" width="19.80" height="6.80" fill="rgb(255,166,166)" stroke="none" stroke-width="0"/>
<rect x="199.56" y="398.83" width="19.80" height="6.80" fill="rgb(255,76,76)" stroke="none" stroke-width="0"/>
<rect x="222.32" y="398.83" width="19.80" height="6.80" fill="rgb(220,220,253)" stroke="none" stroke-width="0"/>
<rect x="63.00" y="407.20" width="19.80" height="6.80" fill="rgb(198,198,251)" stroke="none" stroke-width="0"/>
<rect x="85.76" y="407.20" width="19.80" height="6.80" fill="rgb(255,255,255)" stroke="none" stroke-width="0"/>
<rect x="108.52" y="407.20" width="19.80" height="6.80" fill="rgb(186,186,250)" stroke="none" stroke-width="0"/>
<rect x="131.28" y="407.20" width="19.80" height="6.80" fill="rgb(255,242,242)" stroke="none" stroke-width="0"/>
<rect x="154.04" y="407.20" width="19.80" height="6.80" fill="rgb(255,166,166)" stroke="none" stroke-width="0"/>
<rect x="176.80" y="407.20" width="19.80" height="6.80" fill="rgb(255,191,191)" stroke="none" stroke-width="0"/>
<rect x="199.56" y="407.20" width="19.80" height="6.80" fill="rgb(255,140,140)" stroke="none" stroke-width="0"/>
<rect x="222.32" y="407.20" width="19.80" height="6.80" fill="rgb(255,255,255)" stroke="none" stroke-width="0"/>
<rect x="63.00" y="415.57" width="19.80" height="6.80" fill="rgb(140,140,248)" stroke="none" stroke-width="0"/>
<rect x="85.76" y="415.57" width="19.80" height="6.80" fill="rgb(174,174,250)" stroke="none" stroke-width="0"/>
<rect x="108.52" y="415.57" width="19.80" height="6.80" fill="rgb(152,152,248)" stroke="none" stroke-width="0"/>
<rect x="131.28" y="415.57" width="19.80" height="6.80" fill="rgb(232,232,254)" stroke="none" stroke-width="0"/>
<rect x="154.04" y="415.57" width="19.80" height="6.80" fill="rgb(255,153,153)" stroke="none" stroke-width="0"/>
<rect x="176.80" y="415.57" width="19.80" height="6.80" fill="rgb(255,76,76)" stroke="none" stroke-width="0"/>
<rect x="199.56" y="415.57" width="19.80" height="6.80" fill="rgb(255,191,191)" stroke="none" stroke-width="0"/>
<rect x="222.32" y="415.57" width="19.80" height="6.80" fill="rgb(255,178,178)" stroke="none" stroke-width="0"/>
<rect x="63.00" y="423.94" width="19.80" height="6.80" fill="rgb(232,232,254)" stroke="none" stroke-width="0"/>
<rect x="85.76" y="423.94" width="19.80" height="6.80" fill="rgb(186,186,250)" stroke="none" stroke-width="0"/>
<rect x="108.52" y="423.94" width="19.80" height="6.80" fill="rgb(140,140,248)" stroke="none" stroke-width="0"/>
<rect x="131.28" y="423.94" width="19.80" height="6.80" fill="rgb(117,117,246)" stroke="none" stroke-width="0"/>
<rect x="154.04" y="423.94" width="19.80" height="6.80" fill="rgb(255,191,191)" stroke="none" stroke-width="0"/>
<rect x="176.80" y="423.94" width="19.80" height="6.80" fill="rgb(255,178,178)" stroke="none" stroke-width="0"/>
<rect x="199.56" y="423.94" width="19.80" height="6.80" fill="rgb(255,89,89)" stroke="none" stroke-width="0"/>
<rect x="222.32" y="423.94" width="19.80" height="6.80" fill="rgb(255,128,128)" stroke="none" stroke-width="0"/>
<rect x="63.00" y="432.31" width="19.80" height="6.80" fill="rgb(106,106,245)" stroke="none" stroke-width="0"/>
<rect x="85.76" y="432.31" width="19.80" height="6.80" fill="rgb(152,152,248)" stroke="none" stroke-width="0"/>
<rect x="108.52" y="432.31" width="19.80" height="6.80" fill="rgb(174,174,250)" stroke="none" stroke-width="0"/>
<rect x="131.28" y="432.31" width="19.80" height="6.80" fill="rgb(255,115,115)" stroke="none" stroke-width="0"/>
<rect x="154.04" y="432.31" width="19.80" height="6.80" fill="rgb(255,128,128)" stroke="none" stroke-width="0"/>
<rect x="176.80" y="432.31" width="19.80" height="6.80" fill="rgb(174,174,250)" stroke="none" stroke-width="0"/>
<rect x="199.56" y="432.31" width="19.80" height="6.80" fill="rgb(255,128,128)" stroke="none" stroke-width="0"/>
<rect x="222.32" y="432.31" width="19.80" height="6.80" fill="rgb(255,166,166)" stroke="none" stroke-width="0"/>
<rect x="63.00" y="440.68" width="19.80" height="6.80" fill="rgb(140,140,248)" stroke="none" stroke-width="0"/>
<rect x="85.76" y="440.68" width="19.80" height="6.80" fill="rgb(255,255,255)" stroke="none" stroke-width="0"/>
<rect x="108.52" y="440.68" width="19.80" height="6.80" fill="rgb(60,60,242)" stroke="none" stroke-width="0"/>
<rect x="131.28" y="440.68" width="19.80" height="6.80" fill="rgb(255,242,242)" stroke="none" stroke-width="0"/>
<rect x="154.04" y="440.68" width="19.80" height="6.80" fill="rgb(255,140,140)" stroke="none" stroke-width="0"/>
<rect x="176.80" y="440.68" width="19.80" height="6.80" fill="rgb(140,140,248)" stroke="none" stroke-width="0"/>
<rect x="199.56" y="440.68" width="19.80" height="6.80" fill="rgb(255,153,153)" stroke="none" stroke-width="0"/>
<rect x="222.32" y="440.68" width="19.80" height="6.80" fill="rgb(255,140,140)" stroke="none" stroke-width="0"/>
<rect x="63.00" y="449.05" width="19.80" height="6.80" fill="rgb(255,217,217)" stroke="none" stroke-width="0"/>
<rect x="85.76" y="449.05" width="19.80" height="6.80" fill="rgb(255,166,166)" stroke="none" stroke-width="0"/>
<rect x="108.52" y="449.05" width="19.80" height="6.80" fill="rgb(232,232,254)" stroke="none" stroke-width="0"/>
<rect x="131.28" y="449.05" width="19.80" height="6.80" fill="rgb(140,140,248)" stroke="none" stroke-width="0"/>
<rect x="154.04" y="449.05" width="19.80" height="6.80" fill="rgb(220,220,253)" stroke="none" stroke-width="0"/>
<rect x="176.80" y="449.05" width="19.80" height="6.80" fill="rgb(255,204,204)" stroke="none" stroke-width="0"/>
<rect x="199.56" y="449.05" width="19.80" height="6.80" fill="rgb(255,128,128)" stroke="none" stroke-width="0"/>
<rect x="222.32" y="449.05" width="19.80" height="6.80" fill="rgb(244,244,254)" stroke="none" stroke-width="0"/>
<rect x="63.00" y="457.42" width="19.80" height="6.80" fill="rgb(255,140,140)" stroke="none" stroke-width="0"/>
<rect x="85.76" y="457.42" width="19.80" height="6.80" fill="rgb(117,117,246)" stroke="none" stroke-width="0"/>
<rect x="108.52" y="457.42" width="19.80" height="6.80" fill="rgb(255,217,217)" stroke="none" stroke-width="0"/>
<rect x="131.28" y="457.42" width="19.80" height="6.80" fill="rgb(174,174,250)" stroke="none" stroke-width="0"/>
<rect x="154.04" y="457.42" width="19.80" height="6.80" fill="rgb(186,186,250)" stroke="none" stroke-width="0"/>
<rect x="176.80" y="457.42" width="19.80" height="6.80" fill="rgb(255,178,178)" stroke="none" stroke-width="0"/>
<rect x="199.56" y="457.42" width="19.80" height="6.80" fill="rgb(255,128,128)" stroke="none" stroke-width="0"/>
<rect x="222.32" y="457.42" width="19.80" height="6.80" fill="rgb(244,244,254)" stroke="none" stroke-width="0"/>
<rect x="63.00" y="465.79" width="19.80" height="6.80" fill="rgb(255,128,128)" stroke="none" stroke-width="0"/>
<rect x="85.76" y="465.79" width="19.80" height="6.80" fill="rgb(174,174,250)" stroke="none" stroke-width="0"/>
<rect x="108.52" y="465.79" width="19.80" height="6.80" fill="rgb(255,242,242)" stroke="none" stroke-width="0"/>
<rect x="131.28" y="465.79" width="19.80" height="6.80" fill="rgb(152,152,248)" stroke="none" stroke-width="0"/>
<rect x="154.04" y="465.79" width="19.80" height="6.80" fill="rgb(198,198,251)" stroke="none" stroke-width="0"/>
<rect x="176.80" y="465.79" width="19.80" height="6.80" fill="rgb(255,128,128)" stroke="none" stroke-width="0"/>
<rect x="199.56" y="465.79" width="19.80" height="6.80" fill="rgb(255,128,128)" stroke="none" stroke-width="0"/>
<rect x="222.32" y="465.79" width="19.80" height="6.80" fill="rgb(255,255,255)" stroke="none" stroke-width="0"/>
<rect x="63.00" y="474.16" width="19.80" height="6.80" fill="rgb(255,191,191)" stroke="none" stroke-width="0"/>
<rect x="85.76" y="474.16" width="19.80" height="6.80" fill="rgb(220,220,253)" stroke="none" stroke-width="0"/>
<rect x="108.52" y="474.16" width="19.80" height="6.80" fill="rgb(255,230,230)" stroke="none" stroke-width="0"/>
<rect x="131.28" y="474.16" width="19.80" height="6.80" fill="rgb(255,255,255)" stroke="none" stroke-width="0"/>
<rect x="154.04" y="474.16" width="19.80" height="6.80" fill="rgb(232,232,254)" stroke="none" stroke-width="0"/>
<rect x="176.80" y="474.16" width="19.80" height="6.80" fill="rgb(220,220,253)" stroke="none" stroke-width="0"/>
<rect x="199.56" y="474.16" width="19.80" height="6.80" fill="rgb(255,217,217)" stroke="none" stroke-width="0"/>
<rect x="222.32" y="474.16" width="19.80" height="6.80" fill="rgb(255,178,178)" stroke="none" stroke-width="0"/>
<rect x="63.00" y="482.53" width="19.80" height="6.80" fill="rgb(255,128,128)" stroke="none" stroke-width="0"/>
<rect x="85.76" y="482.53" width="19.80" height="6.80" fill="rgb(255,242,242)" stroke="none" stroke-width="0"/>
<rect x="108.52" y="482.53" width="19.80" height="6.80" fill="rgb(152,152,248)" stroke="none" stroke-width="0"/>
<rect x="131.28" y="482.53" width="19.80" height="6.80" fill="rgb(255,255,255)" stroke="none" stroke-width="0"/>
<rect x="154.04" y="482.53" width="19.80" height="6.80" fill="rgb(255,140,140)" stroke="none" stroke-width="0"/>
<rect x="176.80" y="482.53" width="19.80" height="6.80" fill="rgb(220,220,253)" stroke="none" stroke-width="0"/>
<rect x="199.56" y="482.53" width="19.80" height="6.80" fill="rgb(255,115,115)" stroke="none" stroke-width="0"/>
<rect x="222.32" y="482.53" width="19.80" height="6.80" fill="rgb(255,255,255)" stroke="none" stroke-width="0"/>
<rect x="63.00" y="490.90" width="19.80" height="6.80" fill="rgb(255,128,128)" stroke="none" stroke-width="0"/>
<rect x="85.76" y="490.90" width="19.80" height="6.80" fill="rgb(255,242,242)" stroke="none" stroke-width="0"/>
<rect x="108.52" y="490.90" width="19.80" height="6.80" fill="rgb(82,82,244)" stroke="none" stroke-width="0"/>
<rect x="131.28" y="490.90" width="19.80" height="6.80" fill="rgb(255,255,255)" stroke="none" stroke-width="0"/>
<rect x="154.04" y="490.90" width="19.80" height="6.80" fill="rgb(255,153,153)" stroke="none" stroke-width="0"/>
<rect x="176.80" y="490.90" width="19.80" height="6.80" fill="rgb(174,174,250)" stroke="none" stroke-width="0"/>
<rect x="199.56" y="490.90" width="19.80" height="6.80" fill="rgb(255,89,89)" stroke="none" stroke-width="0"/>
<rect x="222.32" y="490.90" width="19.80" height="6.80" fill="rgb(163,163,249)" stroke="none" stroke-width="0"/>
<rect x="63.00" y="499.27" width="19.80" height="6.80" fill="rgb(255,102,102)" stroke="none" stroke-width="0"/>
<rect x="85.76" y="499.27" width="19.80" height="6.80" fill="rgb(255,140,140)" stroke="none" stroke-width="0"/>
<rect x="108.52" y="499.27" width="19.80" height="6.80" fill="rgb(255,255,255)" stroke="none" stroke-width="0"/>
<rect x="131.28" y="499.27" width="19.80" height="6.80" fill="rgb(186,186,250)" stroke="none" stroke-width="0"/>
<rect x="154.04" y="499.27" width="19.80" height="6.80" fill="rgb(255,242,242)" stroke="none" stroke-width="0"/>
<rect x="176.80" y="499.27" width="19.80" height="6.80" fill="rgb(117,117,246)" stroke="none" stroke-width="0"/>
<rect x="199.56" y="499.27" width="19.80" height="6.80" fill="rgb(255,153,153)" stroke="none" stroke-width="0"/>
<rect x="222.32" y="499.27" width="19.80" height="6.80" fill="rgb(163,163,249)" stroke="none" stroke-width="0"/>
<rect x="63.00" y="507.64" width="19.80" height="6.80" fill="rgb(255,178,178)" stroke="none" stroke-width="0"/>
<rect x="85.76" y="507.64" width="19.80" height="6.80" fill="rgb(255,153,153)" stroke="none" stroke-width="0"/>
<rect x="108.52" y="507.64" width="19.80" height="6.80" fill="rgb(209,209,252)" stroke="none" stroke-width="0"/>
<rect x="131.28" y="507.64" width="19.80" height="6.80" fill="rgb(128,128,247)" stroke="none" stroke-width="0"/>
<rect x="154.04" y="507.64" width="19.80" height="6.80" fill="rgb(255,178,178)" stroke="none" stroke-width="0"/>
<rect x="176.80" y="507.64" width="19.80" height="6.80" fill="rgb(255,255,255)" stroke="none" stroke-width="0"/>
<rect x="199.56" y="507.64" width="19.80" height="6.80" fill="rgb(232,232,254)" stroke="none" stroke-width="0"/>
<rect x="222.32" y="507.64" width="19.80" height="6.80" fill="rgb(255,242,242)" stroke="none" stroke-width="0"/>
<rect x="63.00" y="516.01" width="19.80" height="6.80" fill="rgb(255,102,102)" stroke="none" stroke-width="0"/>
<rect x="85.76" y="516.01" width="19.80" height="6.80" fill="rgb(255,140,140)" stroke="none" stroke-width="0"/>
<rect x="108.52" y="516.01" width="19.80" height="6.80" fill="rgb(117,117,246)" stroke="none" stroke-width="0"/>
<rect x="131.28" y="516.01" width="19.80" height="6.80" fill="rgb(128,128,247)" stroke="none" stroke-width="0"/>
<rect x="154.04" y="516.01" width="19.80" height="6.80" fill="rgb(255,230,230)" stroke="none" stroke-width="0"/>
<rect x="176.80" y="516.01" width="19.80" height="6.80" fill="rgb(255,255,255)" stroke="none" stroke-width="0"/>
<rect x="199.56" y="516.01" width="19.80" height="6.80" fill="rgb(255,204,204)" stroke="none" stroke-width="0"/>
<rect x="222.32" y="516.01" width="19.80" height="6.80" fill="rgb(209,209,252)" stroke="none" stroke-width="0"/>
<rect x="63.00" y="524.38" width="19.80" height="6.80" fill="rgb(255,178,178)" stroke="none" stroke-width="0"/>
<rect x="85.76" y="524.38" width="19.80" height="6.80" fill="rgb(140,140,248)" stroke="none" stroke-width="0"/>
<rect x="108.52" y="524.38" width="19.80" height="6.80" fill="rgb(152,152,248)" stroke="none" stroke-width="0"/>
<rect x="131.28" y="524.38" width="19.80" height="6.80" fill="rgb(255,255,255)" stroke="none" stroke-width="0"/>
<rect x="154.04" y="524.38" width="19.80" height="6.80" fill="rgb(255,128,128)" stroke="none" stroke-width="0"/>
<rect x="176.80" y="524.38" width="19.80" height="6.80" fill="rgb(255,128,128)" stroke="none" stroke-width="0"/>
<rect x="199.56" y="524.38" width="19.80" height="6.80" fill="rgb(71,71,243)" stroke="none" stroke-width="0"/>
<rect x="222.32" y="524.38" width="19.80" height="6.80" fill="rgb(255,230,230)" stroke="none" stroke-width="0"/>
<rect x="63.00" y="542.00" width="19.80" height="8.10" fill="#0000ee" stroke="none" stroke-width="0"/>
<rect x="85.76" y="542.00" width="19.80" height="8.10" fill="#0000ee" stroke="none" stroke-width="0"/>
<rect x="108.52" y="542.00" width="19.80" height="8.10" fill="#0000ee" stroke="none" stroke-width="0"/>
<rect x="131.28" y="542.00" width="19.80" height="8.10" fill="#0000ee" stroke="none" stroke-width="0"/>
<rect x="154.04" y="542.00" width="19.80" height="8.10" fill="#ee0000" stroke="none" stroke-width="0"/>
<rect x="176.80" y="542.00" width="19.80" height="8.10" fill="#ee0000" stroke="none" stroke-width="0"/>
<rect x="199.56" y="542.00" width="19.80" height="8.10" fill="#ee0000" stroke="none" stroke-width="0"/>
<rect x="222.32" y="542.00" width="19.80" height="8.10" fill="#ee0000" stroke="none" stroke-width="0"/>
<text x="84.20" y="568.20" font-size="13.85" font-weight="bold" fill="#000" text-anchor="start" >BC-NS</text>
<text x="178.50" y="568.20" font-size="13.75" font-weight="bold" fill="#000" text-anchor="start" >BC-S</text>
<text x="0" y="0" font-size="12.8" font-weight="bold" text-anchor="middle" transform="translate(32.4,393.6) rotate(-90)">hES-signature genes</text>
<line x1="152.50" y1="221.60" x2="152.50" y2="228.90" stroke="#808080" stroke-width="1.0" />
<line x1="95.70" y1="229.30" x2="197.20" y2="229.30" stroke="#808080" stroke-width="1.0" />
<line x1="73.20" y1="231.70" x2="95.50" y2="231.70" stroke="#7878c0" stroke-width="1.0" />
<line x1="73.20" y1="231.70" x2="73.20" y2="240.00" stroke="#7878c0" stroke-width="1.0" />
<line x1="95.50" y1="230.10" x2="118.20" y2="230.10" stroke="#7878c0" stroke-width="1.0" />
<line x1="95.50" y1="230.10" x2="95.50" y2="240.00" stroke="#7878c0" stroke-width="1.0" />
<line x1="118.20" y1="230.10" x2="118.20" y2="240.00" stroke="#7878c0" stroke-width="1.0" />
<line x1="140.70" y1="229.30" x2="140.70" y2="240.00" stroke="#8a8ab0" stroke-width="1.0" />
<line x1="164.10" y1="230.40" x2="231.60" y2="230.40" stroke="#d87888" stroke-width="1.0" />
<line x1="164.10" y1="230.40" x2="164.10" y2="240.00" stroke="#d87888" stroke-width="1.0" />
<line x1="231.60" y1="230.40" x2="231.60" y2="240.00" stroke="#d87888" stroke-width="1.0" />
<line x1="186.60" y1="232.30" x2="209.20" y2="232.30" stroke="#d87888" stroke-width="1.0" />
<line x1="186.60" y1="232.30" x2="186.60" y2="240.00" stroke="#d87888" stroke-width="1.0" />
<line x1="209.20" y1="232.30" x2="209.20" y2="240.00" stroke="#d87888" stroke-width="1.0" />
<line x1="197.20" y1="228.90" x2="197.20" y2="232.30" stroke="#808080" stroke-width="1.0" />
<g stroke="#9a9a9a" stroke-width="0.8" fill="none">
<line x1="55.50" y1="243.20" x2="62" y2="243.20"/>
<line x1="55.50" y1="251.57" x2="62" y2="251.57"/>
<line x1="51.50" y1="259.94" x2="62" y2="259.94"/>
<line x1="50.00" y1="268.31" x2="62" y2="268.31"/>
<line x1="54.20" y1="276.68" x2="62" y2="276.68"/>
<line x1="54.20" y1="285.05" x2="62" y2="285.05"/>
<line x1="53.50" y1="293.42" x2="62" y2="293.42"/>
<line x1="53.50" y1="301.79" x2="62" y2="301.79"/>
<line x1="50.00" y1="310.16" x2="62" y2="310.16"/>
<line x1="52.20" y1="318.53" x2="62" y2="318.53"/>
<line x1="52.20" y1="326.90" x2="62" y2="326.90"/>
<line x1="56.20" y1="335.27" x2="62" y2="335.27"/>
<line x1="56.20" y1="343.64" x2="62" y2="343.64"/>
<line x1="52.20" y1="352.01" x2="62" y2="352.01"/>
<line x1="52.20" y1="360.38" x2="62" y2="360.38"/>
<line x1="52.20" y1="368.75" x2="62" y2="368.75"/>
<line x1="52.20" y1="377.12" x2="62" y2="377.12"/>
<line x1="46.80" y1="385.49" x2="62" y2="385.49"/>
<line x1="49.50" y1="393.86" x2="62" y2="393.86"/>
<line x1="49.50" y1="402.23" x2="62" y2="402.23"/>
<line x1="50.00" y1="410.60" x2="62" y2="410.60"/>
<line x1="49.00" y1="418.97" x2="62" y2="418.97"/>
<line x1="49.00" y1="427.34" x2="62" y2="427.34"/>
<line x1="49.50" y1="435.71" x2="62" y2="435.71"/>
<line x1="49.50" y1="444.08" x2="62" y2="444.08"/>
<line x1="48.50" y1="452.45" x2="62" y2="452.45"/>
<line x1="52.20" y1="460.82" x2="62" y2="460.82"/>
<line x1="52.20" y1="469.19" x2="62" y2="469.19"/>
<line x1="46.50" y1="477.56" x2="62" y2="477.56"/>
<line x1="52.80" y1="485.93" x2="62" y2="485.93"/>
<line x1="52.80" y1="494.30" x2="62" y2="494.30"/>
<line x1="47.50" y1="502.67" x2="62" y2="502.67"/>
<line x1="49.50" y1="511.04" x2="62" y2="511.04"/>
<line x1="49.50" y1="519.41" x2="62" y2="519.41"/>
<line x1="45.40" y1="527.78" x2="62" y2="527.78"/>
<line x1="55.50" y1="243.20" x2="55.50" y2="251.57"/>
<line x1="51.50" y1="247.39" x2="55.50" y2="247.39"/>
<line x1="51.5" y1="247.39" x2="51.5" y2="259.94"/>
<line x1="50" y1="253.66" x2="51.5" y2="253.66"/>
<line x1="54.20" y1="276.68" x2="54.20" y2="285.05"/>
<line x1="50.80" y1="280.87" x2="54.20" y2="280.87"/>
<line x1="53.50" y1="293.42" x2="53.50" y2="301.79"/>
<line x1="50.50" y1="297.60" x2="53.50" y2="297.60"/>
<line x1="52.20" y1="318.53" x2="52.20" y2="326.90"/>
<line x1="50.20" y1="322.71" x2="52.20" y2="322.71"/>
<line x1="56.20" y1="335.27" x2="56.20" y2="343.64"/>
<line x1="52.20" y1="339.45" x2="56.20" y2="339.45"/>
<line x1="52.2" y1="339.45" x2="52.2" y2="352.01"/>
<line x1="52.20" y1="360.38" x2="52.20" y2="368.75"/>
<line x1="50.20" y1="364.56" x2="52.20" y2="364.56"/>
<line x1="52.20" y1="460.82" x2="52.20" y2="469.19"/>
<line x1="48.50" y1="465.00" x2="52.20" y2="465.00"/>
<line x1="52.80" y1="485.93" x2="52.80" y2="494.30"/>
<line x1="48.00" y1="490.11" x2="52.80" y2="490.11"/>
<line x1="49.50" y1="511.04" x2="49.50" y2="519.41"/>
<line x1="48.00" y1="515.22" x2="49.50" y2="515.22"/>
</g>
<g stroke="#666" stroke-width="1" fill="none">
<line x1="50.0" y1="253.66" x2="50.0" y2="377.12"/>
<line x1="48.6" y1="268.31" x2="48.6" y2="519.41"/>
<line x1="47.2" y1="326.90" x2="47.2" y2="502.67"/>
<line x1="45.6" y1="385.49" x2="45.6" y2="527.78"/>
<line x1="40" y1="385.5" x2="46.8" y2="385.5"/>
</g>
<text x="293.20" y="224.00" font-size="21" font-weight="bold" fill="#000" text-anchor="start" >D.</text>
<rect x="344.40" y="238.80" width="55.54" height="7.00" fill="#fff" stroke="#cfcfcf" stroke-width="0.7"/>
<rect x="344.40" y="245.80" width="102.08" height="5.10" fill="#000" stroke="none" stroke-width="0"/>
<text x="341.70" y="247.80" font-size="9.3" font-weight="normal" fill="#2a2a2a" text-anchor="end" >BRRN1</text>
<rect x="344.40" y="259.10" width="8.80" height="7.00" fill="#fff" stroke="#cfcfcf" stroke-width="0.7"/>
<rect x="344.40" y="266.10" width="9.64" height="5.10" fill="#000" stroke="none" stroke-width="0"/>
<text x="341.70" y="268.20" font-size="9.3" font-weight="normal" fill="#2a2a2a" text-anchor="end" >CDC25A</text>
<rect x="344.40" y="279.40" width="5.87" height="7.00" fill="#fff" stroke="#cfcfcf" stroke-width="0.7"/>
<rect x="344.40" y="286.40" width="8.80" height="5.10" fill="#000" stroke="none" stroke-width="0"/>
<text x="341.70" y="288.60" font-size="9.3" font-weight="normal" fill="#2a2a2a" text-anchor="end" >CHEK2</text>
<rect x="344.40" y="299.70" width="33.54" height="7.00" fill="#fff" stroke="#cfcfcf" stroke-width="0.7"/>
<rect x="344.40" y="306.70" width="33.54" height="5.10" fill="#000" stroke="none" stroke-width="0"/>
<text x="341.70" y="309.00" font-size="9.3" font-weight="normal" fill="#2a2a2a" text-anchor="end" >DCC1</text>
<rect x="344.40" y="320.00" width="6.08" height="7.00" fill="#fff" stroke="#cfcfcf" stroke-width="0.7"/>
<rect x="344.40" y="327.00" width="7.34" height="5.10" fill="#000" stroke="none" stroke-width="0"/>
<text x="341.70" y="329.40" font-size="9.3" font-weight="normal" fill="#2a2a2a" text-anchor="end" >DTYMK</text>
<rect x="344.40" y="340.30" width="4.19" height="7.00" fill="#fff" stroke="#cfcfcf" stroke-width="0.7"/>
<rect x="344.40" y="347.30" width="3.98" height="5.10" fill="#000" stroke="none" stroke-width="0"/>
<text x="341.70" y="349.80" font-size="9.3" font-weight="normal" fill="#2a2a2a" text-anchor="end" >DNMT3A</text>
<rect x="344.40" y="360.60" width="5.24" height="7.00" fill="#fff" stroke="#cfcfcf" stroke-width="0.7"/>
<rect x="344.40" y="367.60" width="5.45" height="5.10" fill="#000" stroke="none" stroke-width="0"/>
<text x="341.70" y="370.20" font-size="9.3" font-weight="normal" fill="#2a2a2a" text-anchor="end" >EPHA1</text>
<rect x="344.40" y="380.90" width="47.16" height="7.00" fill="#fff" stroke="#cfcfcf" stroke-width="0.7"/>
<rect x="344.40" y="387.90" width="54.71" height="5.10" fill="#000" stroke="none" stroke-width="0"/>
<text x="341.70" y="390.60" font-size="9.3" font-weight="normal" fill="#2a2a2a" text-anchor="end" >FLJ20105</text>
<rect x="344.40" y="401.20" width="20.96" height="7.00" fill="#fff" stroke="#cfcfcf" stroke-width="0.7"/>
<rect x="344.40" y="408.20" width="15.51" height="5.10" fill="#000" stroke="none" stroke-width="0"/>
<text x="341.70" y="411.00" font-size="9.3" font-weight="normal" fill="#2a2a2a" text-anchor="end" >HELLS</text>
<rect x="344.40" y="421.50" width="46.11" height="7.00" fill="#fff" stroke="#cfcfcf" stroke-width="0.7"/>
<rect x="344.40" y="428.50" width="64.77" height="5.10" fill="#000" stroke="none" stroke-width="0"/>
<text x="341.70" y="431.40" font-size="9.3" font-weight="normal" fill="#2a2a2a" text-anchor="end" >MCM10</text>
<rect x="344.40" y="441.80" width="20.33" height="7.00" fill="#fff" stroke="#cfcfcf" stroke-width="0.7"/>
<rect x="344.40" y="448.80" width="137.92" height="5.10" fill="#000" stroke="none" stroke-width="0"/>
<text x="341.70" y="451.80" font-size="9.3" font-weight="normal" fill="#2a2a2a" text-anchor="end" >MYBL2</text>
<rect x="344.40" y="462.10" width="31.86" height="7.00" fill="#fff" stroke="#cfcfcf" stroke-width="0.7"/>
<rect x="344.40" y="469.10" width="23.06" height="5.10" fill="#000" stroke="none" stroke-width="0"/>
<text x="341.70" y="472.20" font-size="9.3" font-weight="normal" fill="#2a2a2a" text-anchor="end" >ORC1L</text>
<rect x="344.40" y="482.40" width="5.45" height="7.00" fill="#fff" stroke="#cfcfcf" stroke-width="0.7"/>
<rect x="344.40" y="489.40" width="4.82" height="5.10" fill="#000" stroke="none" stroke-width="0"/>
<text x="341.70" y="492.60" font-size="9.3" font-weight="normal" fill="#2a2a2a" text-anchor="end" >RBM14</text>
<rect x="344.40" y="502.70" width="5.45" height="7.00" fill="#fff" stroke="#cfcfcf" stroke-width="0.7"/>
<rect x="344.40" y="509.70" width="3.98" height="5.10" fill="#000" stroke="none" stroke-width="0"/>
<text x="341.70" y="513.00" font-size="9.3" font-weight="normal" fill="#2a2a2a" text-anchor="end" >RNU3IP2</text>
<rect x="344.40" y="523.00" width="19.28" height="7.00" fill="#fff" stroke="#cfcfcf" stroke-width="0.7"/>
<rect x="344.40" y="530.00" width="41.08" height="5.10" fill="#000" stroke="none" stroke-width="0"/>
<text x="341.70" y="533.40" font-size="9.3" font-weight="normal" fill="#2a2a2a" text-anchor="end" >SLD5</text>
<line x1="344.40" y1="235.00" x2="344.40" y2="543.30" stroke="#111" stroke-width="1.6" />
<line x1="343.60" y1="542.50" x2="490.70" y2="542.50" stroke="#333" stroke-width="1.6" />
<line x1="344.20" y1="542.50" x2="344.20" y2="544.80" stroke="#333" stroke-width="1" />
<text x="344.20" y="554.00" font-size="9.6" font-weight="normal" fill="#444" text-anchor="middle" >0</text>
<line x1="365.13" y1="542.50" x2="365.13" y2="544.80" stroke="#333" stroke-width="1" />
<text x="365.13" y="554.00" font-size="9.6" font-weight="normal" fill="#444" text-anchor="middle" >10</text>
<line x1="386.06" y1="542.50" x2="386.06" y2="544.80" stroke="#333" stroke-width="1" />
<text x="386.06" y="554.00" font-size="9.6" font-weight="normal" fill="#444" text-anchor="middle" >20</text>
<line x1="406.99" y1="542.50" x2="406.99" y2="544.80" stroke="#333" stroke-width="1" />
<text x="406.99" y="554.00" font-size="9.6" font-weight="normal" fill="#444" text-anchor="middle" >30</text>
<line x1="427.92" y1="542.50" x2="427.92" y2="544.80" stroke="#333" stroke-width="1" />
<text x="427.92" y="554.00" font-size="9.6" font-weight="normal" fill="#444" text-anchor="middle" >40</text>
<line x1="448.85" y1="542.50" x2="448.85" y2="544.80" stroke="#333" stroke-width="1" />
<text x="448.85" y="554.00" font-size="9.6" font-weight="normal" fill="#444" text-anchor="middle" >50</text>
<line x1="469.78" y1="542.50" x2="469.78" y2="544.80" stroke="#333" stroke-width="1" />
<text x="469.78" y="554.00" font-size="9.6" font-weight="normal" fill="#444" text-anchor="middle" >60</text>
<line x1="490.71" y1="542.50" x2="490.71" y2="544.80" stroke="#333" stroke-width="1" />
<text x="490.71" y="554.00" font-size="9.6" font-weight="normal" fill="#444" text-anchor="middle" >70</text>
<rect x="437.40" y="284.60" width="14.40" height="7.30" fill="#fff" stroke="#c8c8c8" stroke-width="0.8"/>
<rect x="437.40" y="307.00" width="14.40" height="5.50" fill="#000" stroke="none" stroke-width="0"/>
<text x="455.00" y="291.90" font-size="11.4" font-weight="bold" fill="#000" text-anchor="start" >Microarray</text>
<text x="455.00" y="312.50" font-size="11.35" font-weight="bold" fill="#000" text-anchor="start" >RNA-Seq</text>
<text x="391.90" y="573.10" font-size="12.6" font-weight="bold" fill="#000" text-anchor="start" >Fold-change</text>
<text x="378.75" y="588.10" font-size="12.6" font-weight="bold" fill="#000" text-anchor="start" >(BC-S <tspan font-style="italic">vs</tspan> BC-NS)</text>
<text x="559.20" y="221.50" font-size="21" font-weight="bold" fill="#000" text-anchor="start" >E.</text>
<line x1="611.40" y1="235.50" x2="611.40" y2="536.80" stroke="#333" stroke-width="1.6" />
<line x1="610.60" y1="536.30" x2="792.50" y2="536.30" stroke="#333" stroke-width="1.6" />
<line x1="611.30" y1="536.30" x2="611.30" y2="538.60" stroke="#333" stroke-width="1" />
<text x="611.30" y="550.40" font-size="9.6" font-weight="normal" fill="#444" text-anchor="middle" >0</text>
<line x1="637.20" y1="536.30" x2="637.20" y2="538.60" stroke="#333" stroke-width="1" />
<text x="637.20" y="550.40" font-size="9.6" font-weight="normal" fill="#444" text-anchor="middle" >1</text>
<line x1="663.10" y1="536.30" x2="663.10" y2="538.60" stroke="#333" stroke-width="1" />
<text x="663.10" y="550.40" font-size="9.6" font-weight="normal" fill="#444" text-anchor="middle" >2</text>
<line x1="689.00" y1="536.30" x2="689.00" y2="538.60" stroke="#333" stroke-width="1" />
<text x="689.00" y="550.40" font-size="9.6" font-weight="normal" fill="#444" text-anchor="middle" >3</text>
<line x1="714.90" y1="536.30" x2="714.90" y2="538.60" stroke="#333" stroke-width="1" />
<text x="714.90" y="550.40" font-size="9.6" font-weight="normal" fill="#444" text-anchor="middle" >4</text>
<line x1="740.80" y1="536.30" x2="740.80" y2="538.60" stroke="#333" stroke-width="1" />
<text x="740.80" y="550.40" font-size="9.6" font-weight="normal" fill="#444" text-anchor="middle" >5</text>
<line x1="766.70" y1="536.30" x2="766.70" y2="538.60" stroke="#333" stroke-width="1" />
<text x="766.70" y="550.40" font-size="9.6" font-weight="normal" fill="#444" text-anchor="middle" >6</text>
<line x1="792.60" y1="536.30" x2="792.60" y2="538.60" stroke="#333" stroke-width="1" />
<text x="792.60" y="550.40" font-size="9.6" font-weight="normal" fill="#444" text-anchor="middle" >7</text>
<text x="607.80" y="254.25" font-size="9.3" font-weight="normal" fill="#2a2a2a" text-anchor="end" >ABHD9</text>
<text x="607.80" y="290.80" font-size="9.3" font-weight="normal" fill="#2a2a2a" text-anchor="end" >CYP26A1</text>
<text x="607.80" y="325.85" font-size="9.3" font-weight="normal" fill="#2a2a2a" text-anchor="end" >HESX1</text>
<text x="607.80" y="360.20" font-size="9.3" font-weight="normal" fill="#2a2a2a" text-anchor="end" >NANOG</text>
<text x="607.80" y="394.55" font-size="9.3" font-weight="normal" fill="#2a2a2a" text-anchor="end" >BRRN1</text>
<text x="607.80" y="427.40" font-size="9.3" font-weight="normal" fill="#2a2a2a" text-anchor="end" >DCC1</text>
<text x="607.80" y="461.40" font-size="9.3" font-weight="normal" fill="#2a2a2a" text-anchor="end" >FJL20105</text>
<text x="607.80" y="496.20" font-size="9.3" font-weight="normal" fill="#2a2a2a" text-anchor="end" >MCM10</text>
<text x="607.80" y="527.30" font-size="9.3" font-weight="normal" fill="#2a2a2a" text-anchor="end" >MYBL2</text>
<circle cx="627.80" cy="243.90" r="3.0" fill="#0000ee" stroke="none" stroke-width="0"/>
<circle cx="636.00" cy="240.70" r="3.0" fill="#0000ee" stroke="none" stroke-width="0"/>
<circle cx="636.90" cy="247.70" r="3.0" fill="#0000ee" stroke="none" stroke-width="0"/>
<circle cx="611.40" cy="271.60" r="3.0" fill="#0000ee" stroke="none" stroke-width="0"/>
<circle cx="611.40" cy="276.70" r="3.0" fill="#0000ee" stroke="none" stroke-width="0"/>
<circle cx="611.40" cy="281.70" r="3.0" fill="#0000ee" stroke="none" stroke-width="0"/>
<circle cx="611.70" cy="307.00" r="3.0" fill="#0000ee" stroke="none" stroke-width="0"/>
<circle cx="612.30" cy="310.80" r="3.0" fill="#0000ee" stroke="none" stroke-width="0"/>
<circle cx="612.30" cy="314.50" r="3.0" fill="#0000ee" stroke="none" stroke-width="0"/>
<circle cx="611.70" cy="343.50" r="3.0" fill="#0000ee" stroke="none" stroke-width="0"/>
<circle cx="613.00" cy="347.30" r="3.0" fill="#0000ee" stroke="none" stroke-width="0"/>
<circle cx="612.30" cy="351.70" r="3.0" fill="#0000ee" stroke="none" stroke-width="0"/>
<circle cx="666.60" cy="382.20" r="3.0" fill="#0000ee" stroke="none" stroke-width="0"/>
<circle cx="672.20" cy="382.20" r="3.0" fill="#0000ee" stroke="none" stroke-width="0"/>
<circle cx="682.70" cy="382.20" r="3.0" fill="#0000ee" stroke="none" stroke-width="0"/>
<circle cx="629.30" cy="414.00" r="3.0" fill="#0000ee" stroke="none" stroke-width="0"/>
<circle cx="626.20" cy="419.90" r="3.0" fill="#0000ee" stroke="none" stroke-width="0"/>
<circle cx="631.90" cy="419.90" r="3.0" fill="#0000ee" stroke="none" stroke-width="0"/>
<circle cx="631.30" cy="452.20" r="3.0" fill="#0000ee" stroke="none" stroke-width="0"/>
<circle cx="636.30" cy="452.20" r="3.0" fill="#0000ee" stroke="none" stroke-width="0"/>
<circle cx="642.00" cy="452.20" r="3.0" fill="#0000ee" stroke="none" stroke-width="0"/>
<circle cx="672.00" cy="489.50" r="3.0" fill="#0000ee" stroke="none" stroke-width="0"/>
<circle cx="678.25" cy="489.50" r="3.0" fill="#0000ee" stroke="none" stroke-width="0"/>
<circle cx="684.25" cy="489.50" r="3.0" fill="#0000ee" stroke="none" stroke-width="0"/>
<circle cx="733.00" cy="517.50" r="3.0" fill="#0000ee" stroke="none" stroke-width="0"/>
<circle cx="743.00" cy="517.50" r="3.0" fill="#0000ee" stroke="none" stroke-width="0"/>
<circle cx="755.00" cy="517.50" r="3.0" fill="#0000ee" stroke="none" stroke-width="0"/>
<circle cx="631.00" cy="258.00" r="3.0" fill="#ee1111" stroke="none" stroke-width="0"/>
<circle cx="635.60" cy="260.90" r="3.0" fill="#ee1111" stroke="none" stroke-width="0"/>
<circle cx="639.40" cy="258.00" r="3.0" fill="#ee1111" stroke="none" stroke-width="0"/>
<circle cx="611.40" cy="288.60" r="3.0" fill="#ee1111" stroke="none" stroke-width="0"/>
<circle cx="611.40" cy="292.40" r="3.0" fill="#ee1111" stroke="none" stroke-width="0"/>
<circle cx="611.40" cy="296.20" r="3.0" fill="#ee1111" stroke="none" stroke-width="0"/>
<circle cx="611.70" cy="321.50" r="3.0" fill="#ee1111" stroke="none" stroke-width="0"/>
<circle cx="613.60" cy="325.30" r="3.0" fill="#ee1111" stroke="none" stroke-width="0"/>
<circle cx="611.70" cy="329.00" r="3.0" fill="#ee1111" stroke="none" stroke-width="0"/>
<circle cx="612.30" cy="358.00" r="3.0" fill="#ee1111" stroke="none" stroke-width="0"/>
<circle cx="611.70" cy="362.50" r="3.0" fill="#ee1111" stroke="none" stroke-width="0"/>
<circle cx="611.70" cy="366.90" r="3.0" fill="#ee1111" stroke="none" stroke-width="0"/>
<circle cx="689.80" cy="396.30" r="3.0" fill="#ee1111" stroke="none" stroke-width="0"/>
<circle cx="697.50" cy="395.30" r="3.0" fill="#ee1111" stroke="none" stroke-width="0"/>
<circle cx="694.80" cy="401.30" r="3.0" fill="#ee1111" stroke="none" stroke-width="0"/>
<circle cx="637.30" cy="429.60" r="3.0" fill="#ee1111" stroke="none" stroke-width="0"/>
<circle cx="635.90" cy="433.60" r="3.0" fill="#ee1111" stroke="none" stroke-width="0"/>
<circle cx="638.70" cy="436.00" r="3.0" fill="#ee1111" stroke="none" stroke-width="0"/>
<circle cx="645.40" cy="462.90" r="3.0" fill="#ee1111" stroke="none" stroke-width="0"/>
<circle cx="649.40" cy="466.90" r="3.0" fill="#ee1111" stroke="none" stroke-width="0"/>
<circle cx="647.40" cy="470.90" r="3.0" fill="#ee1111" stroke="none" stroke-width="0"/>
<circle cx="692.50" cy="498.00" r="3.0" fill="#ee1111" stroke="none" stroke-width="0"/>
<circle cx="695.00" cy="503.00" r="3.0" fill="#ee1111" stroke="none" stroke-width="0"/>
<circle cx="690.50" cy="505.75" r="3.0" fill="#ee1111" stroke="none" stroke-width="0"/>
<circle cx="767.00" cy="528.00" r="3.0" fill="#ee1111" stroke="none" stroke-width="0"/>
<circle cx="772.50" cy="531.25" r="3.0" fill="#ee1111" stroke="none" stroke-width="0"/>
<circle cx="776.25" cy="527.00" r="3.0" fill="#ee1111" stroke="none" stroke-width="0"/>
<polyline points="645.40,238.80 651.40,238.80 651.40,263.00 645.40,263.00" fill="none" stroke="#333" stroke-width="1.6"/>
<text x="655.00" y="255.10" font-size="8.9" font-weight="normal" fill="#333" text-anchor="start" >N.S.</text>
<polyline points="645.40,271.40 651.40,271.40 651.40,295.30 645.40,295.30" fill="none" stroke="#333" stroke-width="1.6"/>
<text x="655.00" y="287.55" font-size="8.9" font-weight="normal" fill="#333" text-anchor="start" >N.D.</text>
<polyline points="645.40,307.60 651.40,307.60 651.40,331.60 645.40,331.60" fill="none" stroke="#333" stroke-width="1.6"/>
<text x="655.00" y="323.80" font-size="8.9" font-weight="normal" fill="#333" text-anchor="start" >N.S.</text>
<polyline points="645.40,343.50 651.40,343.50 651.40,367.10 645.40,367.10" fill="none" stroke="#333" stroke-width="1.6"/>
<text x="655.00" y="359.50" font-size="8.9" font-weight="normal" fill="#333" text-anchor="start" >N.S.</text>
<polyline points="704.00,381.10 710.00,381.10 710.00,404.30 704.00,404.30" fill="none" stroke="#333" stroke-width="1.6"/>
<text x="717.00" y="400.90" font-size="13.6" font-weight="bold" fill="#222" text-anchor="middle" >*</text>
<polyline points="705.00,417.00 711.00,417.00 711.00,440.70 705.00,440.70" fill="none" stroke="#333" stroke-width="1.6"/>
<text x="718.00" y="437.05" font-size="13.6" font-weight="bold" fill="#222" text-anchor="middle" >*</text>
<polyline points="706.00,449.30 712.00,449.30 712.00,473.00 706.00,473.00" fill="none" stroke="#333" stroke-width="1.6"/>
<text x="719.00" y="469.35" font-size="13.6" font-weight="bold" fill="#222" text-anchor="middle" >*</text>
<polyline points="707.00,485.50 713.00,485.50 713.00,508.75 707.00,508.75" fill="none" stroke="#333" stroke-width="1.6"/>
<text x="720.00" y="505.33" font-size="13.6" font-weight="bold" fill="#222" text-anchor="middle" >*</text>
<polyline points="777.00,508.75 783.00,508.75 783.00,532.00 777.00,532.00" fill="none" stroke="#333" stroke-width="1.6"/>
<text x="790.00" y="528.58" font-size="13.6" font-weight="bold" fill="#222" text-anchor="middle" >*</text>
<circle cx="719.50" cy="310.70" r="3.1" fill="#0000ee" stroke="none" stroke-width="0"/>
<text x="729.40" y="314.50" font-size="11.2" font-weight="bold" fill="#111" text-anchor="start" >control</text>
<circle cx="719.50" cy="328.40" r="3.1" fill="#ee1111" stroke="none" stroke-width="0"/>
<text x="729.40" y="331.30" font-size="11.6" font-weight="bold" fill="#111" text-anchor="start" >2% CSE</text>
<text x="623.75" y="571.25" font-size="12.7" font-weight="bold" fill="#000" text-anchor="start" >Relative expression level</text>
</svg></body></html>
